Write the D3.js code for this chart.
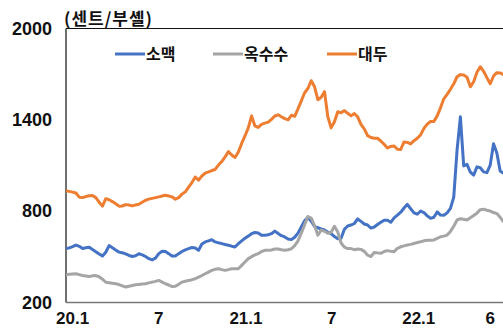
<!DOCTYPE html>
<html>
<head>
<meta charset="utf-8">
<script src="https://cdn.jsdelivr.net/npm/d3@7"></script>
<style>
  html, body { margin: 0; padding: 0; background: #fff; }
  svg { display: block; }
  text { font-family: "Liberation Sans", Arial, "Noto Sans CJK KR", sans-serif; font-weight: bold; fill: #111; }
  .kr { font-family: "Noto Sans CJK KR", "Liberation Sans", sans-serif; }
</style>
</head>
<body>
<svg id="chart" width="503" height="330"></svg>
<script>
// Weekly grain prices, cents per bushel, starting 2019-12-19
const seriesNames = ["소맥", "옥수수", "대두"];
const seriesColors = ["#4472C4", "#A5A5A5", "#ED7D31"];

const wheat = [
  554,559,567,577,569,555,560,563,548,534,
  519,505,530,574,560,545,531,527,519,509,
  502,507,520,513,502,488,480,491,521,536,
  535,521,506,506,521,535,546,554,561,558,
  543,584,598,605,612,598,592,587,581,576,
  570,565,586,605,622,636,652,660,657,642,
  642,645,652,669,653,639,631,617,613,629,
  656,697,737,759,734,699,691,683,676,663,
  652,633,619,622,681,703,709,719,749,733,
  716,709,689,696,712,727,741,741,727,756,
  774,793,821,845,816,789,780,801,791,769,
  753,760,795,774,773,789,818,892,1202,1420,
  1097,1107,1057,1037,1091,1085,1058,1053,1103,1243,
  1182,1064,1049
];
const corn = [
  383,385,387,389,383,377,374,371,375,377,
  369,353,333,330,327,323,318,309,302,307,
  312,316,319,321,323,329,334,339,345,334,
  323,315,305,307,319,334,340,345,350,356,
  367,377,389,400,411,418,422,416,411,416,
  422,422,422,444,466,488,501,513,521,535,
  543,543,545,551,552,547,543,547,553,573,
  605,655,711,765,755,704,642,676,668,655,
  661,701,663,591,564,554,554,547,551,549,
  536,511,502,528,526,523,535,541,536,534,
  556,566,572,578,582,588,594,599,605,609,
  609,611,621,632,636,643,667,701,742,750,
  747,742,757,772,787,810,813,806,801,791,
  784,760,729
];
const soybean = [
  932,930,925,919,892,889,896,901,903,889,
  859,833,882,875,863,849,833,834,843,840,
  835,841,846,859,872,879,884,889,894,900,
  905,900,894,879,889,912,927,958,988,1024,
  1004,1031,1050,1058,1067,1074,1103,1126,1156,1191,
  1169,1153,1189,1245,1294,1347,1426,1360,1350,1370,
  1378,1385,1403,1425,1433,1420,1408,1400,1430,1423,
  1472,1525,1578,1606,1657,1617,1532,1548,1585,1420,
  1347,1387,1453,1446,1461,1443,1426,1441,1420,1370,
  1341,1296,1284,1279,1279,1261,1239,1215,1225,1228,
  1207,1205,1255,1252,1242,1263,1279,1301,1344,1372,
  1389,1389,1426,1479,1538,1567,1601,1637,1683,1697,
  1694,1680,1617,1650,1713,1749,1719,1677,1637,1688,
  1710,1708,1697
];

const yTicks = [200, 800, 1400, 2000];
const xTickDates = ["2020-01-01", "2020-07-01", "2021-01-01", "2021-07-01", "2022-01-01", "2022-06-01"];
const xTickLabels = ["20.1", "7", "21.1", "7", "22.1", "6"];
const unitLabel = "(센트/부셸)";

const startDate = new Date(2019, 11, 19);
const dates = wheat.map((_, i) => d3.timeDay.offset(startDate, 7 * i));

const svg = d3.select("#chart");
const plotLeft = 66, plotRight = 503, plotTop = 28.5, plotBottom = 302.5;

const x = d3.scaleTime()
  .domain([startDate, new Date(2022, 5, 29)])
  .range([plotLeft, plotRight]);
const y = d3.scaleLinear().domain([200, 2000]).range([plotBottom, plotTop]);

svg.append("defs").append("clipPath").attr("id", "plotClip")
  .append("rect").attr("x", plotLeft).attr("y", 0)
  .attr("width", plotRight - plotLeft + 5).attr("height", 330);

// frame
svg.append("line").attr("x1", plotLeft).attr("x2", plotRight).attr("y1", plotTop).attr("y2", plotTop)
  .attr("stroke", "#111").attr("stroke-width", 1.2);
svg.append("line").attr("x1", plotLeft).attr("x2", plotLeft).attr("y1", plotTop).attr("y2", plotBottom)
  .attr("stroke", "#111").attr("stroke-width", 1.2);
svg.append("line").attr("x1", plotLeft).attr("x2", plotRight).attr("y1", plotBottom).attr("y2", plotBottom)
  .attr("stroke", "#777").attr("stroke-width", 1.6);

// series lines
const line = d3.line().x((d, i) => x(dates[i])).y(d => y(d)).curve(d3.curveLinear);
const g = svg.append("g").attr("clip-path", "url(#plotClip)");
[wheat, corn, soybean].forEach((s, k) => {
  g.append("path").datum(s)
    .attr("d", line)
    .attr("fill", "none")
    .attr("stroke", seriesColors[k])
    .attr("stroke-width", 3)
    .attr("stroke-linejoin", "round");
});

// y axis
const yAxis = d3.axisLeft(y).tickValues(yTicks).tickFormat(d3.format("d")).tickSize(0).tickPadding(14);
const ya = svg.append("g").attr("transform", `translate(${plotLeft},0)`).call(yAxis);
ya.select(".domain").remove();
ya.selectAll("text").style("font-size", "18px").attr("fill", "#111");

// x axis
const xAxis = d3.axisBottom(x)
  .tickValues(xTickDates.map(s => d3.timeParse("%Y-%m-%d")(s)))
  .tickFormat((d, i) => xTickLabels[i])
  .tickSize(0).tickPadding(9);
const xa = svg.append("g").attr("transform", `translate(0,${plotBottom})`).call(xAxis);
xa.select(".domain").remove();
xa.selectAll("text").style("font-size", "17px").attr("fill", "#111");

// unit label
svg.append("text").attr("class", "kr").attr("x", 64).attr("y", 25)
  .style("font-size", "17px").style("letter-spacing", "1px").text(unitLabel);

// legend
const legendX = [115, 213, 327];
seriesNames.forEach((name, k) => {
  svg.append("line")
    .attr("x1", legendX[k]).attr("x2", legendX[k] + 30)
    .attr("y1", 54).attr("y2", 54)
    .attr("stroke", seriesColors[k]).attr("stroke-width", 3);
  svg.append("text").attr("class", "kr")
    .attr("x", legendX[k] + 31).attr("y", 60)
    .style("font-size", "16px").text(name);
});
</script>
</body>
</html>
